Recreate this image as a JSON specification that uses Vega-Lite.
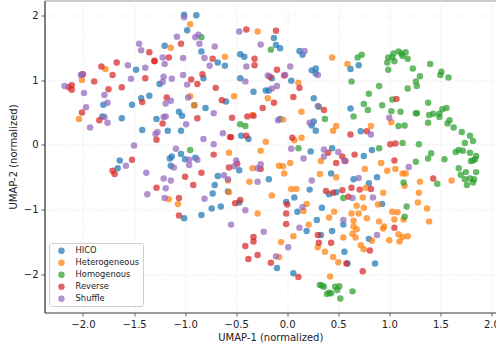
{"$schema":"https://vega.github.io/schema/vega-lite/v6.json","width":451.5,"height":312,"autosize":"none","padding":{"left":44.5,"top":0.5,"right":0,"bottom":38.5},"background":"white",
"config":{"font":"DejaVu Sans","view":{"stroke":"#999"}},
"data":{"values":[
{"s":"HICO","x":-1.01,"y":2.01},{"s":"HICO","x":-0.89,"y":2.0},{"s":"HICO","x":-0.98,"y":1.77},{"s":"HICO","x":-1.2,"y":1.53},{"s":"HICO","x":-0.84,"y":1.44},{"s":"HICO","x":-0.68,"y":1.27},{"s":"HICO","x":-0.61,"y":1.22},{"s":"HICO","x":-0.46,"y":1.4},{"s":"HICO","x":-0.42,"y":1.36},{"s":"HICO","x":-1.48,"y":1.16},{"s":"HICO","x":-0.82,"y":1.03},{"s":"HICO","x":-0.46,"y":1.03},{"s":"HICO","x":-0.33,"y":0.82},{"s":"HICO","x":-0.21,"y":0.84},{"s":"HICO","x":-0.18,"y":0.84},{"s":"HICO","x":-1.25,"y":0.94},{"s":"HICO","x":-1.35,"y":0.76},{"s":"HICO","x":-1.43,"y":0.72},{"s":"HICO","x":-1.52,"y":0.62},{"s":"HICO","x":-1.8,"y":0.62},{"s":"HICO","x":-0.6,"y":0.67},{"s":"HICO","x":-0.91,"y":0.61},{"s":"HICO","x":-0.8,"y":0.57},{"s":"HICO","x":-1.06,"y":0.51},{"s":"HICO","x":-1.03,"y":0.45},{"s":"HICO","x":-1.28,"y":0.4},{"s":"HICO","x":-1.81,"y":0.44},{"s":"HICO","x":-1.62,"y":0.41},{"s":"HICO","x":-1.42,"y":0.23},{"s":"HICO","x":-1.17,"y":0.22},{"s":"HICO","x":-1.04,"y":0.22},{"s":"HICO","x":-0.45,"y":0.14},{"s":"HICO","x":-0.38,"y":0.09},{"s":"HICO","x":-1.04,"y":-0.14},{"s":"HICO","x":-1.13,"y":-0.18},{"s":"HICO","x":-1.15,"y":-0.21},{"s":"HICO","x":-1,"y":-0.22},{"s":"HICO","x":-0.9,"y":-0.2},{"s":"HICO","x":-1.64,"y":-0.24},{"s":"HICO","x":-1.66,"y":-0.36},{"s":"HICO","x":-1.14,"y":-0.32},{"s":"HICO","x":-0.47,"y":-0.39},{"s":"HICO","x":-0.13,"y":1.65},{"s":"HICO","x":-0.11,"y":1.54},{"s":"HICO","x":-0.07,"y":1.49},{"s":"HICO","x":0.12,"y":1.45},{"s":"HICO","x":0.15,"y":1.39},{"s":"HICO","x":0.24,"y":1.15},{"s":"HICO","x":0.28,"y":1.18},{"s":"HICO","x":0.28,"y":1.1},{"s":"HICO","x":0.62,"y":1.17},{"s":"HICO","x":0.7,"y":1.23},{"s":"HICO","x":-0.15,"y":1.03},{"s":"HICO","x":0.04,"y":0.99},{"s":"HICO","x":0.26,"y":0.72},{"s":"HICO","x":0.62,"y":0.56},{"s":"HICO","x":-0.07,"y":0.4},{"s":"HICO","x":0.26,"y":0.36},{"s":"HICO","x":0.24,"y":0.3},{"s":"HICO","x":0.28,"y":0.22},{"s":"HICO","x":0.72,"y":0.21},{"s":"HICO","x":0.44,"y":-0.05},{"s":"HICO","x":0.23,"y":-0.1},{"s":"HICO","x":0.75,"y":-0.17},{"s":"HICO","x":0.83,"y":-0.08},{"s":"HICO","x":-0.68,"y":-0.48},{"s":"HICO","x":-0.71,"y":-0.62},{"s":"HICO","x":-0.73,"y":-0.75},{"s":"HICO","x":-0.58,"y":-0.72},{"s":"HICO","x":-0.74,"y":-0.98},{"s":"HICO","x":-0.65,"y":-0.95},{"s":"HICO","x":-0.84,"y":-1.08},{"s":"HICO","x":-1.01,"y":-1.13},{"s":"HICO","x":-0.47,"y":-0.89},{"s":"HICO","x":-0.18,"y":-0.53},{"s":"HICO","x":0.43,"y":-0.44},{"s":"HICO","x":0.65,"y":-0.53},{"s":"HICO","x":0.88,"y":-0.5},{"s":"HICO","x":0.8,"y":-0.59},{"s":"HICO","x":0.22,"y":-0.69},{"s":"HICO","x":-0.01,"y":-0.88},{"s":"HICO","x":0.07,"y":-0.81},{"s":"HICO","x":0.41,"y":-0.76},{"s":"HICO","x":0.48,"y":-0.73},{"s":"HICO","x":0.34,"y":-0.97},{"s":"HICO","x":0.1,"y":-1.03},{"s":"HICO","x":0.93,"y":-0.91},{"s":"HICO","x":0.29,"y":-1.16},{"s":"HICO","x":0.55,"y":-1.23},{"s":"HICO","x":0.19,"y":-1.33},{"s":"HICO","x":0.44,"y":-1.33},{"s":"HICO","x":0.33,"y":-1.39},{"s":"HICO","x":0.8,"y":-1.45},{"s":"HICO","x":0.56,"y":-1.65},{"s":"HICO","x":0.59,"y":-1.83},{"s":"HICO","x":0.86,"y":-1.83},{"s":"HICO","x":-0.1,"y":-1.9},{"s":"HICO","x":0.06,"y":-1.98},
{"s":"Heterogeneous","x":-0.95,"y":1.86},{"s":"Heterogeneous","x":-1.14,"y":1.5},{"s":"Heterogeneous","x":-0.29,"y":1.75},{"s":"Heterogeneous","x":-0.61,"y":1.36},{"s":"Heterogeneous","x":-1.78,"y":1.17},{"s":"Heterogeneous","x":-2.01,"y":1},{"s":"Heterogeneous","x":-0.52,"y":0.75},{"s":"Heterogeneous","x":-0.95,"y":0.75},{"s":"Heterogeneous","x":-0.91,"y":0.61},{"s":"Heterogeneous","x":-2.04,"y":0.4},{"s":"Heterogeneous","x":-0.34,"y":0.46},{"s":"Heterogeneous","x":-0.21,"y":0.05},{"s":"Heterogeneous","x":-0.26,"y":-0.09},{"s":"Heterogeneous","x":-0.57,"y":-0.12},{"s":"Heterogeneous","x":-0.34,"y":-0.36},{"s":"Heterogeneous","x":0.44,"y":1.35},{"s":"Heterogeneous","x":0.59,"y":1.25},{"s":"Heterogeneous","x":0.11,"y":0.96},{"s":"Heterogeneous","x":-0.19,"y":0.72},{"s":"Heterogeneous","x":0.14,"y":0.51},{"s":"Heterogeneous","x":-0.04,"y":0.39},{"s":"Heterogeneous","x":1.02,"y":0.35},{"s":"Heterogeneous","x":0.48,"y":0.29},{"s":"Heterogeneous","x":0.45,"y":0.22},{"s":"Heterogeneous","x":0.82,"y":0.29},{"s":"Heterogeneous","x":0.14,"y":0.11},{"s":"Heterogeneous","x":0.07,"y":0.07},{"s":"Heterogeneous","x":0.33,"y":-0.25},{"s":"Heterogeneous","x":0.03,"y":-0.28},{"s":"Heterogeneous","x":0.92,"y":-0.28},{"s":"Heterogeneous","x":-0.58,"y":-0.55},{"s":"Heterogeneous","x":-0.37,"y":-0.57},{"s":"Heterogeneous","x":-0.57,"y":-0.73},{"s":"Heterogeneous","x":-1.16,"y":-0.84},{"s":"Heterogeneous","x":-1.07,"y":-0.91},{"s":"Heterogeneous","x":-0.29,"y":-1.06},{"s":"Heterogeneous","x":0.76,"y":-0.37},{"s":"Heterogeneous","x":0.98,"y":-0.4},{"s":"Heterogeneous","x":1.06,"y":-0.37},{"s":"Heterogeneous","x":1.13,"y":-0.44},{"s":"Heterogeneous","x":1.16,"y":-0.44},{"s":"Heterogeneous","x":-0.03,"y":-0.44},{"s":"Heterogeneous","x":0.32,"y":-0.45},{"s":"Heterogeneous","x":0.48,"y":-0.5},{"s":"Heterogeneous","x":-0.08,"y":-0.32},{"s":"Heterogeneous","x":-0.04,"y":-0.33},{"s":"Heterogeneous","x":1.3,"y":-0.57},{"s":"Heterogeneous","x":1.15,"y":-0.63},{"s":"Heterogeneous","x":1.61,"y":-0.55},{"s":"Heterogeneous","x":0.04,"y":-0.68},{"s":"Heterogeneous","x":0.09,"y":-0.68},{"s":"Heterogeneous","x":0.77,"y":-0.66},{"s":"Heterogeneous","x":0.94,"y":-0.74},{"s":"Heterogeneous","x":1.29,"y":-0.74},{"s":"Heterogeneous","x":0.74,"y":-0.81},{"s":"Heterogeneous","x":-0.15,"y":-0.78},{"s":"Heterogeneous","x":1.28,"y":-0.89},{"s":"Heterogeneous","x":0.19,"y":-0.91},{"s":"Heterogeneous","x":0.16,"y":-1.02},{"s":"Heterogeneous","x":0.46,"y":-1.03},{"s":"Heterogeneous","x":0.68,"y":-0.94},{"s":"Heterogeneous","x":0.75,"y":-0.97},{"s":"Heterogeneous","x":0.89,"y":-0.92},{"s":"Heterogeneous","x":0.63,"y":-1.06},{"s":"Heterogeneous","x":0.7,"y":-1.06},{"s":"Heterogeneous","x":1.03,"y":-1.03},{"s":"Heterogeneous","x":1.08,"y":-1.04},{"s":"Heterogeneous","x":1.37,"y":-0.98},{"s":"Heterogeneous","x":0.41,"y":-1.12},{"s":"Heterogeneous","x":0.78,"y":-1.13},{"s":"Heterogeneous","x":1.05,"y":-1.15},{"s":"Heterogeneous","x":1.14,"y":-1.15},{"s":"Heterogeneous","x":0.9,"y":-1.18},{"s":"Heterogeneous","x":1.39,"y":-1.18},{"s":"Heterogeneous","x":0.21,"y":-1.23},{"s":"Heterogeneous","x":0.65,"y":-1.17},{"s":"Heterogeneous","x":0.65,"y":-1.26},{"s":"Heterogeneous","x":0.68,"y":-1.3},{"s":"Heterogeneous","x":0.94,"y":-1.29},{"s":"Heterogeneous","x":0.95,"y":-1.26},{"s":"Heterogeneous","x":0.06,"y":-1.41},{"s":"Heterogeneous","x":0.55,"y":-1.43},{"s":"Heterogeneous","x":0.64,"y":-1.37},{"s":"Heterogeneous","x":0.67,"y":-1.43},{"s":"Heterogeneous","x":1.09,"y":-1.38},{"s":"Heterogeneous","x":1.13,"y":-1.42},{"s":"Heterogeneous","x":1.18,"y":-1.41},{"s":"Heterogeneous","x":1,"y":-1.47},{"s":"Heterogeneous","x":1.1,"y":-1.49},{"s":"Heterogeneous","x":0.83,"y":-1.48},{"s":"Heterogeneous","x":-0.06,"y":-1.5},{"s":"Heterogeneous","x":0.3,"y":-1.58},{"s":"Heterogeneous","x":0.72,"y":-1.55},{"s":"Heterogeneous","x":0.75,"y":-1.61},{"s":"Heterogeneous","x":0.37,"y":-1.65},{"s":"Heterogeneous","x":0.45,"y":-1.73},{"s":"Heterogeneous","x":0.5,"y":-1.81},{"s":"Heterogeneous","x":-0.08,"y":-1.73},{"s":"Heterogeneous","x":0.42,"y":-2.03},
{"s":"Homogenous","x":-0.84,"y":1.66},{"s":"Homogenous","x":-0.46,"y":0.32},{"s":"Homogenous","x":-0.41,"y":0.29},{"s":"Homogenous","x":-0.95,"y":-0.08},{"s":"Homogenous","x":-0.16,"y":1.47},{"s":"Homogenous","x":0.69,"y":1.35},{"s":"Homogenous","x":0.73,"y":1.39},{"s":"Homogenous","x":0.99,"y":1.35},{"s":"Homogenous","x":1.03,"y":1.35},{"s":"Homogenous","x":1.04,"y":1.41},{"s":"Homogenous","x":1.09,"y":1.44},{"s":"Homogenous","x":1.12,"y":1.41},{"s":"Homogenous","x":1.16,"y":1.43},{"s":"Homogenous","x":1.13,"y":1.37},{"s":"Homogenous","x":1.18,"y":1.33},{"s":"Homogenous","x":0.98,"y":1.27},{"s":"Homogenous","x":1.05,"y":1.29},{"s":"Homogenous","x":0.99,"y":1.16},{"s":"Homogenous","x":1.23,"y":1.18},{"s":"Homogenous","x":1.4,"y":1.25},{"s":"Homogenous","x":1.51,"y":1.13},{"s":"Homogenous","x":1.5,"y":1.08},{"s":"Homogenous","x":1.58,"y":1.04},{"s":"Homogenous","x":1.3,"y":1.06},{"s":"Homogenous","x":1.26,"y":0.98},{"s":"Homogenous","x":1.27,"y":0.91},{"s":"Homogenous","x":0.63,"y":0.98},{"s":"Homogenous","x":0.9,"y":0.91},{"s":"Homogenous","x":1.18,"y":0.87},{"s":"Homogenous","x":0.8,"y":0.79},{"s":"Homogenous","x":1.03,"y":0.7},{"s":"Homogenous","x":0.75,"y":0.63},{"s":"Homogenous","x":0.93,"y":0.61},{"s":"Homogenous","x":0.79,"y":0.54},{"s":"Homogenous","x":1.38,"y":0.65},{"s":"Homogenous","x":1.02,"y":0.52},{"s":"Homogenous","x":1.11,"y":0.51},{"s":"Homogenous","x":1.26,"y":0.49},{"s":"Homogenous","x":1.27,"y":0.49},{"s":"Homogenous","x":0.65,"y":0.44},{"s":"Homogenous","x":0.37,"y":0.4},{"s":"Homogenous","x":0.31,"y":0.59},{"s":"Homogenous","x":1.39,"y":0.46},{"s":"Homogenous","x":1.43,"y":0.48},{"s":"Homogenous","x":1.49,"y":0.48},{"s":"Homogenous","x":1.52,"y":0.55},{"s":"Homogenous","x":1.56,"y":0.57},{"s":"Homogenous","x":1.49,"y":0.43},{"s":"Homogenous","x":1.59,"y":0.38},{"s":"Homogenous","x":1.57,"y":0.33},{"s":"Homogenous","x":1.38,"y":0.34},{"s":"Homogenous","x":1.09,"y":0.29},{"s":"Homogenous","x":1.15,"y":0.3},{"s":"Homogenous","x":1.63,"y":0.27},{"s":"Homogenous","x":1.71,"y":0.2},{"s":"Homogenous","x":1.79,"y":0.14},{"s":"Homogenous","x":1.82,"y":0.06},{"s":"Homogenous","x":1.74,"y":0.03},{"s":"Homogenous","x":1.13,"y":0.03},{"s":"Homogenous","x":1.29,"y":0.01},{"s":"Homogenous","x":0.9,"y":-0.05},{"s":"Homogenous","x":0.11,"y":-0.05},{"s":"Homogenous","x":1.68,"y":-0.08},{"s":"Homogenous","x":1.65,"y":-0.11},{"s":"Homogenous","x":1.72,"y":-0.09},{"s":"Homogenous","x":1.79,"y":-0.12},{"s":"Homogenous","x":1.85,"y":-0.17},{"s":"Homogenous","x":1.84,"y":-0.22},{"s":"Homogenous","x":1.82,"y":-0.24},{"s":"Homogenous","x":1.8,"y":-0.25},{"s":"Homogenous","x":1.41,"y":-0.13},{"s":"Homogenous","x":1.38,"y":-0.21},{"s":"Homogenous","x":1.54,"y":-0.22},{"s":"Homogenous","x":1.26,"y":-0.26},{"s":"Homogenous","x":1.68,"y":-0.36},{"s":"Homogenous","x":1.75,"y":-0.42},{"s":"Homogenous","x":1.85,"y":-0.42},{"s":"Homogenous","x":1.14,"y":-0.58},{"s":"Homogenous","x":1.7,"y":-0.46},{"s":"Homogenous","x":1.74,"y":-0.53},{"s":"Homogenous","x":1.79,"y":-0.52},{"s":"Homogenous","x":1.83,"y":-0.53},{"s":"Homogenous","x":1.82,"y":-0.58},{"s":"Homogenous","x":1.76,"y":-0.62},{"s":"Homogenous","x":1.47,"y":-0.6},{"s":"Homogenous","x":0.55,"y":-0.82},{"s":"Homogenous","x":1.17,"y":-0.95},{"s":"Homogenous","x":1.15,"y":-1.11},{"s":"Homogenous","x":0.32,"y":-2.16},{"s":"Homogenous","x":0.34,"y":-2.17},{"s":"Homogenous","x":0.36,"y":-2.19},{"s":"Homogenous","x":0.47,"y":-2.19},{"s":"Homogenous","x":0.51,"y":-2.18},{"s":"Homogenous","x":0.49,"y":-2.24},{"s":"Homogenous","x":0.64,"y":-2.26},{"s":"Homogenous","x":0.39,"y":-2.3},{"s":"Homogenous","x":0.41,"y":-2.28},{"s":"Homogenous","x":0.43,"y":-2.29},{"s":"Homogenous","x":0.52,"y":-2.37},
{"s":"Reverse","x":-0.4,"y":1.78},{"s":"Reverse","x":-1.04,"y":1.56},{"s":"Reverse","x":-1.35,"y":1.43},{"s":"Reverse","x":-1.3,"y":1.29},{"s":"Reverse","x":-1.3,"y":1.3},{"s":"Reverse","x":-1.16,"y":1.35},{"s":"Reverse","x":-1.67,"y":1.27},{"s":"Reverse","x":-1.82,"y":1.21},{"s":"Reverse","x":-1.71,"y":1.08},{"s":"Reverse","x":-1.89,"y":0.98},{"s":"Reverse","x":-2,"y":1.09},{"s":"Reverse","x":-2.11,"y":0.92},{"s":"Reverse","x":-2.14,"y":0.89},{"s":"Reverse","x":-2.11,"y":0.85},{"s":"Reverse","x":-1.39,"y":1.03},{"s":"Reverse","x":-1.62,"y":0.89},{"s":"Reverse","x":-1.75,"y":0.86},{"s":"Reverse","x":-0.94,"y":1.01},{"s":"Reverse","x":-0.83,"y":1.09},{"s":"Reverse","x":-0.88,"y":0.94},{"s":"Reverse","x":-0.73,"y":1.33},{"s":"Reverse","x":-0.32,"y":1.33},{"s":"Reverse","x":-0.32,"y":1.23},{"s":"Reverse","x":-0.7,"y":0.88},{"s":"Reverse","x":-0.64,"y":0.69},{"s":"Reverse","x":-1.18,"y":0.73},{"s":"Reverse","x":-1.42,"y":0.66},{"s":"Reverse","x":-2.01,"y":0.5},{"s":"Reverse","x":-1.84,"y":0.38},{"s":"Reverse","x":-0.88,"y":0.41},{"s":"Reverse","x":-0.54,"y":0.42},{"s":"Reverse","x":-0.39,"y":0.44},{"s":"Reverse","x":-0.33,"y":0.45},{"s":"Reverse","x":-0.24,"y":0.57},{"s":"Reverse","x":-1.22,"y":0.33},{"s":"Reverse","x":-1.28,"y":0.08},{"s":"Reverse","x":-0.56,"y":0.12},{"s":"Reverse","x":-0.55,"y":0.12},{"s":"Reverse","x":-0.4,"y":0.14},{"s":"Reverse","x":-0.72,"y":-0.15},{"s":"Reverse","x":-1.52,"y":-0.23},{"s":"Reverse","x":-0.57,"y":-0.35},{"s":"Reverse","x":-0.49,"y":-0.29},{"s":"Reverse","x":-1.71,"y":-0.4},{"s":"Reverse","x":-0.11,"y":1.76},{"s":"Reverse","x":-0.1,"y":1.16},{"s":"Reverse","x":-0.17,"y":1.05},{"s":"Reverse","x":-0.03,"y":1.07},{"s":"Reverse","x":0.12,"y":0.88},{"s":"Reverse","x":0.06,"y":0.74},{"s":"Reverse","x":-0.13,"y":0.65},{"s":"Reverse","x":0.36,"y":0.54},{"s":"Reverse","x":0.05,"y":0.11},{"s":"Reverse","x":1.07,"y":0.71},{"s":"Reverse","x":0.62,"y":0.16},{"s":"Reverse","x":0.78,"y":0.21},{"s":"Reverse","x":1.01,"y":0.01},{"s":"Reverse","x":1.06,"y":0.02},{"s":"Reverse","x":0.4,"y":-0.12},{"s":"Reverse","x":0.54,"y":-0.18},{"s":"Reverse","x":0.48,"y":-0.28},{"s":"Reverse","x":0.57,"y":-0.25},{"s":"Reverse","x":0.66,"y":-0.15},{"s":"Reverse","x":1.05,"y":-0.24},{"s":"Reverse","x":-1.69,"y":-0.45},{"s":"Reverse","x":-1,"y":-0.49},{"s":"Reverse","x":-0.84,"y":-0.43},{"s":"Reverse","x":-1.28,"y":-0.66},{"s":"Reverse","x":-0.92,"y":-0.62},{"s":"Reverse","x":-1.06,"y":-0.82},{"s":"Reverse","x":-1.06,"y":-1.09},{"s":"Reverse","x":-0.51,"y":-0.9},{"s":"Reverse","x":-0.46,"y":-0.85},{"s":"Reverse","x":-0.26,"y":-0.37},{"s":"Reverse","x":-0.33,"y":-1.42},{"s":"Reverse","x":-0.33,"y":-1.49},{"s":"Reverse","x":-0.41,"y":-1.56},{"s":"Reverse","x":-0.29,"y":-1.7},{"s":"Reverse","x":-0.38,"y":-1.76},{"s":"Reverse","x":1.43,"y":-0.52},{"s":"Reverse","x":0.38,"y":-0.71},{"s":"Reverse","x":0.45,"y":-0.74},{"s":"Reverse","x":0.54,"y":-0.7},{"s":"Reverse","x":0.63,"y":-0.66},{"s":"Reverse","x":0.71,"y":-0.69},{"s":"Reverse","x":0.82,"y":-0.68},{"s":"Reverse","x":0.6,"y":-0.8},{"s":"Reverse","x":0,"y":-0.92},{"s":"Reverse","x":-0.01,"y":-1.06},{"s":"Reverse","x":-0.01,"y":-1.22},{"s":"Reverse","x":1.05,"y":-1.28},{"s":"Reverse","x":0.3,"y":-1.39},{"s":"Reverse","x":0.31,"y":-1.51},{"s":"Reverse","x":0.43,"y":-1.51},{"s":"Reverse","x":0.81,"y":-1.63},{"s":"Reverse","x":0.58,"y":-1.83},{"s":"Reverse","x":0.74,"y":-1.95},{"s":"Reverse","x":-0.16,"y":-1.82},{"s":"Reverse","x":0.11,"y":-2.04},
{"s":"Shuffle","x":-1.01,"y":1.97},{"s":"Shuffle","x":-0.87,"y":1.7},{"s":"Shuffle","x":-0.9,"y":1.66},{"s":"Shuffle","x":-1.08,"y":1.67},{"s":"Shuffle","x":-0.47,"y":1.75},{"s":"Shuffle","x":-1.45,"y":1.56},{"s":"Shuffle","x":-1.43,"y":1.46},{"s":"Shuffle","x":-0.86,"y":1.56},{"s":"Shuffle","x":-0.71,"y":1.52},{"s":"Shuffle","x":-0.26,"y":1.55},{"s":"Shuffle","x":-1.22,"y":1.35},{"s":"Shuffle","x":-1.2,"y":1.25},{"s":"Shuffle","x":-1.02,"y":1.34},{"s":"Shuffle","x":-0.81,"y":1.34},{"s":"Shuffle","x":-0.76,"y":1.22},{"s":"Shuffle","x":-1.56,"y":1.23},{"s":"Shuffle","x":-1.39,"y":1.19},{"s":"Shuffle","x":-0.4,"y":1.21},{"s":"Shuffle","x":-2.01,"y":1.09},{"s":"Shuffle","x":-2.02,"y":1.08},{"s":"Shuffle","x":-1.21,"y":1.05},{"s":"Shuffle","x":-1.02,"y":1.08},{"s":"Shuffle","x":-0.19,"y":1.07},{"s":"Shuffle","x":-1.53,"y":1.02},{"s":"Shuffle","x":-1.13,"y":1.02},{"s":"Shuffle","x":-1.22,"y":0.97},{"s":"Shuffle","x":-0.98,"y":0.93},{"s":"Shuffle","x":-0.41,"y":0.98},{"s":"Shuffle","x":-2.18,"y":0.91},{"s":"Shuffle","x":-1.99,"y":0.8},{"s":"Shuffle","x":-1.79,"y":0.77},{"s":"Shuffle","x":-1.76,"y":0.65},{"s":"Shuffle","x":-1.14,"y":0.68},{"s":"Shuffle","x":-1.19,"y":0.64},{"s":"Shuffle","x":-0.97,"y":0.73},{"s":"Shuffle","x":-1.97,"y":0.58},{"s":"Shuffle","x":-1.79,"y":0.43},{"s":"Shuffle","x":-1.76,"y":0.34},{"s":"Shuffle","x":-1.93,"y":0.27},{"s":"Shuffle","x":-1.21,"y":0.43},{"s":"Shuffle","x":-1.19,"y":0.44},{"s":"Shuffle","x":-0.99,"y":0.32},{"s":"Shuffle","x":-0.72,"y":0.49},{"s":"Shuffle","x":-1.27,"y":0.2},{"s":"Shuffle","x":-1.29,"y":0.17},{"s":"Shuffle","x":-0.63,"y":0.18},{"s":"Shuffle","x":-1.5,"y":-0.01},{"s":"Shuffle","x":-0.82,"y":0.09},{"s":"Shuffle","x":-0.72,"y":0.01},{"s":"Shuffle","x":-1.09,"y":-0.06},{"s":"Shuffle","x":-0.96,"y":-0.23},{"s":"Shuffle","x":-0.88,"y":-0.23},{"s":"Shuffle","x":-0.5,"y":-0.24},{"s":"Shuffle","x":-1.58,"y":-0.32},{"s":"Shuffle","x":-1.11,"y":-0.35},{"s":"Shuffle","x":-0.52,"y":-0.33},{"s":"Shuffle","x":-0.26,"y":-0.3},{"s":"Shuffle","x":-0.29,"y":-0.36},{"s":"Shuffle","x":0.17,"y":1.45},{"s":"Shuffle","x":0.03,"y":1.21},{"s":"Shuffle","x":-0.02,"y":1.08},{"s":"Shuffle","x":0.3,"y":1.08},{"s":"Shuffle","x":-0.1,"y":0.91},{"s":"Shuffle","x":-0.15,"y":0.87},{"s":"Shuffle","x":0.3,"y":0.6},{"s":"Shuffle","x":-0.09,"y":0.38},{"s":"Shuffle","x":0.22,"y":0.34},{"s":"Shuffle","x":1,"y":0.42},{"s":"Shuffle","x":0.82,"y":0.16},{"s":"Shuffle","x":0.04,"y":-0.06},{"s":"Shuffle","x":0.36,"y":-0.07},{"s":"Shuffle","x":0.5,"y":-0.11},{"s":"Shuffle","x":0.36,"y":-0.18},{"s":"Shuffle","x":0.16,"y":-0.21},{"s":"Shuffle","x":0.56,"y":-0.25},{"s":"Shuffle","x":-1.38,"y":-0.43},{"s":"Shuffle","x":-0.96,"y":-0.31},{"s":"Shuffle","x":-1.21,"y":-0.52},{"s":"Shuffle","x":-1.14,"y":-0.55},{"s":"Shuffle","x":-0.62,"y":-0.47},{"s":"Shuffle","x":-0.58,"y":-0.53},{"s":"Shuffle","x":-0.29,"y":-0.57},{"s":"Shuffle","x":-1.19,"y":-0.67},{"s":"Shuffle","x":-1.37,"y":-0.76},{"s":"Shuffle","x":-1.2,"y":-0.82},{"s":"Shuffle","x":-0.81,"y":-0.83},{"s":"Shuffle","x":-0.41,"y":-1.01},{"s":"Shuffle","x":-0.55,"y":-1.23},{"s":"Shuffle","x":-0.23,"y":-1.34},{"s":"Shuffle","x":0.24,"y":-0.55},{"s":"Shuffle","x":0.7,"y":-0.51},{"s":"Shuffle","x":1.19,"y":-0.34},{"s":"Shuffle","x":0.64,"y":-0.82},{"s":"Shuffle","x":0.84,"y":-0.81},{"s":"Shuffle","x":0.15,"y":-0.96},{"s":"Shuffle","x":0.55,"y":-1.16},{"s":"Shuffle","x":0.12,"y":-1.28},{"s":"Shuffle","x":0.88,"y":-1.39},{"s":"Shuffle","x":0.01,"y":-1.58},{"s":"Shuffle","x":-0.11,"y":-1.72}
]},
"mark":{"type":"circle","size":42,"opacity":0.72,"clip":true},
"encoding":{
"x":{"field":"x","type":"quantitative","scale":{"domain":[-2.377,2.045],"nice":false,"zero":false},"axis":{"title":"UMAP-1 (normalized)","values":[-2,-1.5,-1,-0.5,0,0.5,1,1.5,2],"format":".1f","grid":true,"gridColor":"#e6e6e6","gridDash":[1.5,1.5],"gridWidth":0.8,"domainColor":"#666","domainWidth":1,"tickColor":"#333","tickSize":3.5,"tickWidth":0.8,"labelColor":"#222","labelFontSize":10,"labelPadding":3,"labelBound":false,"labelFlush":false,"titleFontSize":10,"titleFontWeight":"normal","titleColor":"#222","titlePadding":3}},
"y":{"field":"y","type":"quantitative","scale":{"domain":[-2.586,2.228],"nice":false,"zero":false},"axis":{"title":"UMAP-2 (normalized)","values":[-2,-1,0,1,2],"format":"d","grid":true,"gridColor":"#e6e6e6","gridDash":[1.5,1.5],"gridWidth":0.8,"domainColor":"#333","domainWidth":1,"tickColor":"#333","tickSize":3.5,"tickWidth":0.8,"labelColor":"#222","labelFontSize":10,"labelPadding":3,"titleFontSize":10,"titleFontWeight":"normal","titleColor":"#222","titlePadding":5}},
"color":{"field":"s","type":"nominal","sort":null,"scale":{"domain":["HICO","Heterogeneous","Homogenous","Reverse","Shuffle"],"range":["#1f77b4","#ff7f0e","#2ca02c","#d62728","#9467bd"]},"legend":{"title":null,"orient":"none","legendX":4.5,"legendY":242.5,"fillColor":"white","strokeColor":"#d0d0d0","cornerRadius":2,"padding":3.5,"labelFontSize":8.3,"labelColor":"#222","symbolType":"circle","symbolSize":42,"symbolOpacity":0.72,"symbolStrokeWidth":0,"symbolOffset":4.8,"rowPadding":3,"labelOffset":10}}
}}
